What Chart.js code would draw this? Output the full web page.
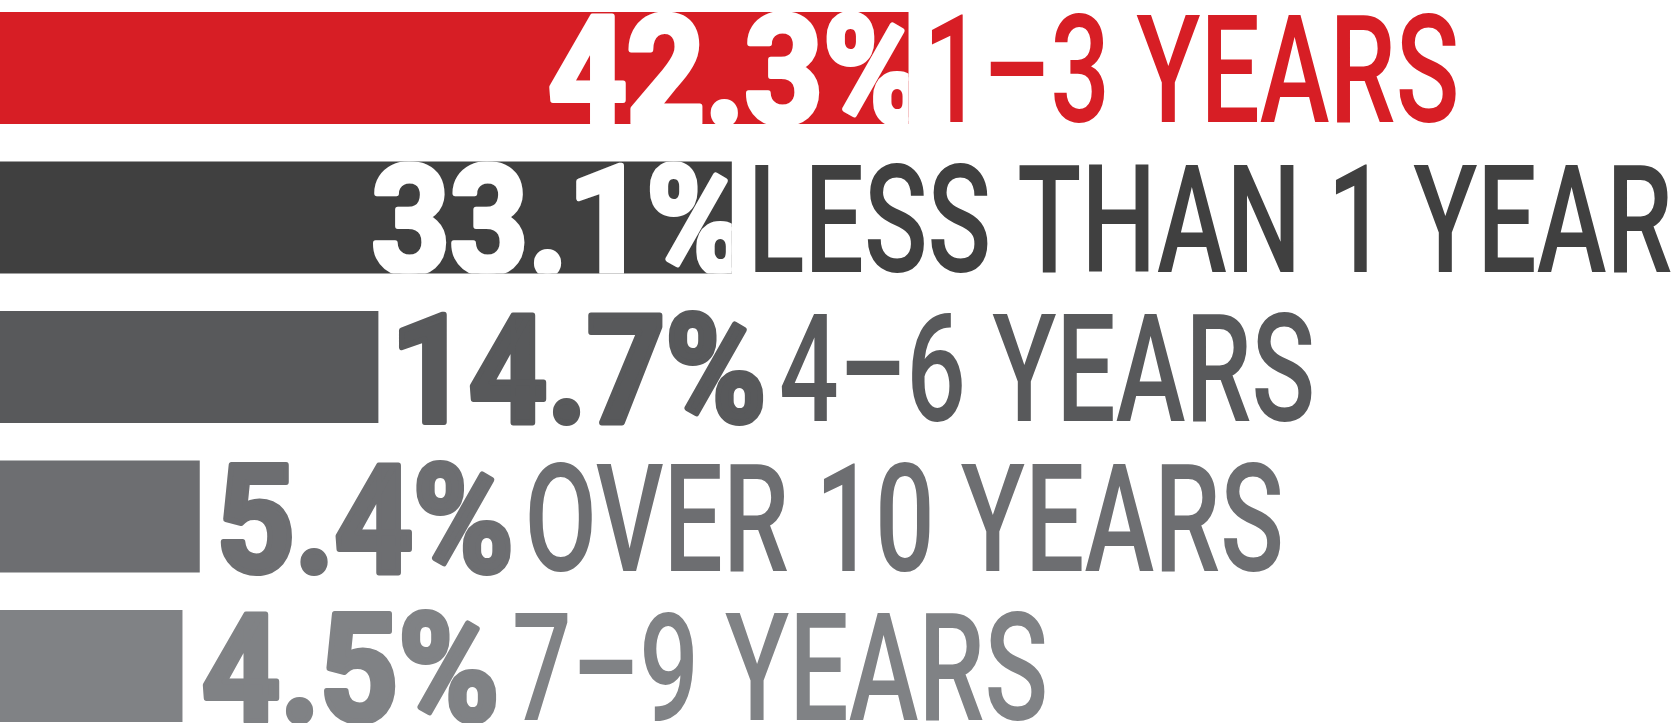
<!DOCTYPE html>
<html lang="en">
<head>
    <meta charset="UTF-8">
    <title>Years</title>
    <script src="https://cdn.jsdelivr.net/npm/chart.js"></script>
    <style>
        html, body { margin: 0; padding: 0; background: #fff; }
        #wrap { width: 1673px; height: 723px; }
    </style>
</head>
<body>
    <div id="wrap"><canvas id="yearsChart"></canvas></div>

    <script>
        const categories = ['1–3 YEARS', 'LESS THAN 1 YEAR', '4–6 YEARS', 'OVER 10 YEARS', '7–9 YEARS'];
        const shares = [42.3, 33.1, 14.7, 5.4, 4.5];
        const barColors = ['#d71e25', '#404040', '#58595b', '#6d6e71', '#808285'];
        const axisMin = -5;
        const axisMax = 82.1;

        // horizontal squeeze to fake a condensed face
        const PCT_SQUEEZE = 0.91;
        const CAT_SQUEEZE = 0.70;

        function textBox(ctx, text, weight, capH, squeeze) {
            ctx.font = weight + ' 100px Roboto';
            const h = ctx.measureText('H').actualBoundingBoxAscent;
            const size = 100 * capH / h;
            ctx.font = weight + ' ' + size.toFixed(2) + 'px Roboto';
            const m = ctx.measureText(text);
            return {
                font: ctx.font,
                left: m.actualBoundingBoxLeft * squeeze,
                width: (m.actualBoundingBoxLeft + m.actualBoundingBoxRight) * squeeze,
                squeeze: squeeze
            };
        }

        function drawBox(ctx, box, text, x, baseline, color, thicken) {
            ctx.save();
            ctx.font = box.font;
            ctx.fillStyle = color;
            ctx.strokeStyle = color;
            ctx.lineJoin = 'round';
            ctx.textAlign = 'left';
            ctx.textBaseline = 'alphabetic';
            ctx.translate(x + box.left, baseline);
            ctx.scale(box.squeeze, 1);
            ctx.fillText(text, 0, 0);
            if (thicken) {
                ctx.lineWidth = thicken;
                ctx.strokeText(text, 0, 0);
            }
            ctx.restore();
        }

        const labelPlugin = {
            id: 'barLabels',
            afterDatasetsDraw(chart) {
                const ctx = chart.ctx;
                const meta = chart.getDatasetMeta(0);
                meta.data.forEach((bar, i) => {
                    const top = bar.y - bar.height / 2;
                    const bottom = bar.y + bar.height / 2;
                    const pct = shares[i].toFixed(1) + '%';
                    const p = textBox(ctx, pct, 'bold', bar.height - 4, PCT_SQUEEZE);
                    const c = textBox(ctx, categories[i], '500', bar.height - 4, CAT_SQUEEZE);
                    const barLen = bar.x - bar.base;
                    let catX;
                    if (p.width * 1.5 < barLen) {
                        // knocked out of the bar, right aligned just past its end
                        ctx.save();
                        ctx.beginPath();
                        ctx.rect(bar.base, top, barLen, bar.height);
                        ctx.clip();
                        drawBox(ctx, p, pct, bar.x + 10 - p.width, bottom - 1, '#ffffff', 6);
                        ctx.restore();
                        catX = bar.x + 23;
                    } else {
                        const px = bar.x + 23;
                        drawBox(ctx, p, pct, px, bottom - 1, barColors[i], 6);
                        catX = px + p.width + 21;
                    }
                    drawBox(ctx, c, categories[i], catX, bottom - 2, barColors[i], 0);
                });
            }
        };

        new Chart(document.getElementById('yearsChart'), {
            type: 'bar',
            data: {
                labels: categories,
                datasets: [{
                    data: shares,
                    backgroundColor: barColors,
                    base: axisMin,
                    categoryPercentage: 0.75,
                    barPercentage: 1,
                    borderWidth: 0,
                    clip: false
                }]
            },
            options: {
                indexAxis: 'y',
                responsive: true,
                maintainAspectRatio: false,
                animation: false,
                layout: { padding: { top: 68, bottom: 57, left: 0, right: 0 } },
                plugins: {
                    legend: { display: false },
                    tooltip: { enabled: false }
                },
                scales: {
                    x: { display: false, min: axisMin, max: axisMax },
                    y: { display: false, offset: false }
                }
            },
            plugins: [labelPlugin]
        });
    </script>
</body>
</html>
